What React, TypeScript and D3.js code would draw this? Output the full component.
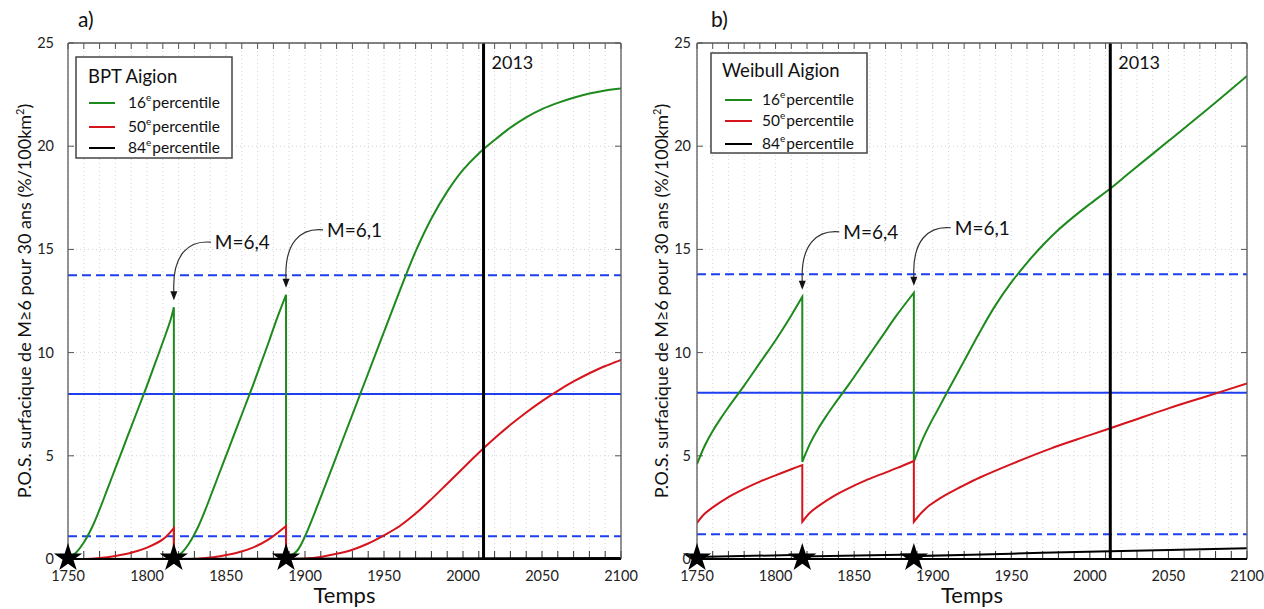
import React from 'react';
import * as d3 from 'd3';

// ---------- data ----------
const eventYears = [1817, 1888];
const eventLabels = ['M=6,4', 'M=6,1'];
const starYears = [1750, 1817, 1888];
const xTickYears = [1750, 1800, 1850, 1900, 1950, 2000, 2050, 2100];
const yTickValues = [0, 5, 10, 15, 20, 25];
const refYear = 2013;

// Panel a: BPT
const bptGreenYears1 = [1750, 1755, 1760, 1765, 1770, 1775, 1780, 1785, 1790, 1795, 1800, 1805, 1810, 1815, 1817];
const bptGreenVals1 = [0, 0.3, 0.8, 1.5, 2.4, 3.4, 4.4, 5.4, 6.4, 7.4, 8.4, 9.45, 10.5, 11.6, 12.2];
const bptGreenYears2 = [1817, 1822, 1827, 1832, 1837, 1842, 1847, 1852, 1857, 1862, 1867, 1872, 1877, 1882, 1888];
const bptGreenVals2 = [0, 0.3, 0.8, 1.5, 2.4, 3.4, 4.4, 5.4, 6.4, 7.4, 8.4, 9.45, 10.5, 11.6, 12.8];
const bptGreenYears3 = [1888, 1895, 1900, 1910, 1920, 1930, 1940, 1950, 1960, 1970, 1980, 1990, 2000, 2010, 2020, 2030, 2040, 2050, 2060, 2070, 2080, 2090, 2100];
const bptGreenVals3 = [0, 0.4, 1.1, 3.0, 5.0, 7.0, 9.0, 11.0, 13.0, 14.9, 16.5, 17.8, 18.85, 19.65, 20.3, 20.9, 21.4, 21.8, 22.1, 22.35, 22.55, 22.7, 22.8];

const bptRedYears1 = [1750, 1760, 1770, 1780, 1790, 1800, 1810, 1817];
const bptRedVals1 = [0, 0, 0.05, 0.15, 0.3, 0.55, 0.95, 1.5];
const bptRedYears2 = [1817, 1827, 1837, 1847, 1857, 1867, 1877, 1888];
const bptRedVals2 = [0, 0, 0.05, 0.15, 0.3, 0.55, 0.95, 1.6];
const bptRedYears3 = [1888, 1900, 1910, 1920, 1930, 1940, 1950, 1960, 1970, 1980, 1990, 2000, 2010, 2020, 2030, 2040, 2050, 2060, 2070, 2080, 2090, 2100];
const bptRedVals3 = [0, 0.02, 0.1, 0.25, 0.45, 0.75, 1.15, 1.6, 2.2, 2.9, 3.65, 4.4, 5.15, 5.85, 6.5, 7.1, 7.65, 8.15, 8.6, 9.0, 9.35, 9.65];

const bptBlackYears = [1750, 2100];
const bptBlackVals = [0, 0.05];

// Panel b: Weibull
const wblGreenYears1 = [1750, 1755, 1760, 1765, 1770, 1780, 1790, 1800, 1810, 1817];
const wblGreenVals1 = [4.6, 5.5, 6.2, 6.8, 7.35, 8.4, 9.5, 10.6, 11.8, 12.7];
const wblGreenYears2 = [1817, 1822, 1827, 1832, 1837, 1847, 1857, 1867, 1877, 1888];
const wblGreenVals2 = [4.7, 5.6, 6.3, 6.9, 7.45, 8.5, 9.6, 10.7, 11.8, 12.9];
const wblGreenYears3 = [1888, 1893, 1898, 1903, 1910, 1920, 1930, 1940, 1950, 1960, 1970, 1980, 1990, 2000, 2013, 2025, 2050, 2075, 2100];
const wblGreenVals3 = [4.7, 5.7, 6.5, 7.2, 8.2, 9.6, 11.0, 12.3, 13.4, 14.35, 15.2, 15.95, 16.6, 17.2, 17.95, 18.7, 20.25, 21.8, 23.4];

const wblRedYears1 = [1750, 1755, 1760, 1770, 1780, 1790, 1800, 1810, 1817];
const wblRedVals1 = [1.75, 2.2, 2.5, 3.0, 3.4, 3.75, 4.05, 4.35, 4.55];
const wblRedYears2 = [1817, 1822, 1827, 1837, 1847, 1857, 1867, 1877, 1888];
const wblRedVals2 = [1.8, 2.25, 2.55, 3.05, 3.45, 3.8, 4.1, 4.4, 4.75];
const wblRedYears3 = [1888, 1893, 1898, 1908, 1918, 1930, 1950, 1975, 2000, 2025, 2050, 2075, 2100];
const wblRedVals3 = [1.8, 2.25, 2.6, 3.1, 3.5, 3.95, 4.6, 5.35, 6.0, 6.65, 7.3, 7.9, 8.5];

const wblBlackYears1 = [1750, 1817];
const wblBlackVals1 = [0.1, 0.2];
const wblBlackYears2 = [1817, 1888];
const wblBlackVals2 = [0.12, 0.22];
const wblBlackYears3 = [1888, 1950, 2013, 2100];
const wblBlackVals3 = [0.14, 0.26, 0.38, 0.52];

const bptBlue = { solid: 8.0, dashHi: 13.75, dashLo: 1.1 };
const wblBlue = { solid: 8.05, dashHi: 13.8, dashLo: 1.2 };

const percentileNames = ['16', '50', '84'];

// ---------- styling ----------
const FONT = "Lato, 'Open Sans', sans-serif";
const GREEN = '#1e8a1e';
const RED = '#d5141c';
const BLUE = '#1d3ff0';
const seriesColors = [GREEN, RED, '#000'];

type Seg = { years: number[]; vals: number[] };

const seg = (years: number[], vals: number[]): Seg => ({ years, vals });

const panels = [
  {
    id: 'a',
    label: 'a)',
    title: 'BPT Aigion',
    x0: 68, x1: 621, yb: 559, yt: 43,
    labelX: 78, labelY: 27,
    ylabX: 31,
    tickLabelRight: 54,
    legend: { x: 76, y: 57, w: 156, h: 101, titleX: 88, titleY: 83, lineX0: 89, lineX1: 115, rows: [103, 127, 148], textX: 128 },
    blue: bptBlue,
    series: [
      [seg(bptGreenYears1, bptGreenVals1), seg(bptGreenYears2, bptGreenVals2), seg(bptGreenYears3, bptGreenVals3)],
      [seg(bptRedYears1, bptRedVals1), seg(bptRedYears2, bptRedVals2), seg(bptRedYears3, bptRedVals3)],
      [seg(bptBlackYears, bptBlackVals)],
    ],
  },
  {
    id: 'b',
    label: 'b)',
    title: 'Weibull Aigion',
    x0: 697, x1: 1247, yb: 559, yt: 43,
    labelX: 711, labelY: 27,
    ylabX: 668,
    tickLabelRight: 691,
    legend: { x: 711, y: 53, w: 156, h: 100, titleX: 722, titleY: 77, lineX0: 725, lineX1: 752, rows: [100, 121, 144], textX: 762 },
    blue: wblBlue,
    series: [
      [seg(wblGreenYears1, wblGreenVals1), seg(wblGreenYears2, wblGreenVals2), seg(wblGreenYears3, wblGreenVals3)],
      [seg(wblRedYears1, wblRedVals1), seg(wblRedYears2, wblRedVals2), seg(wblRedYears3, wblRedVals3)],
      [seg(wblBlackYears1, wblBlackVals1), seg(wblBlackYears2, wblBlackVals2), seg(wblBlackYears3, wblBlackVals3)],
    ],
  },
];

function Panel({ p }: { p: (typeof panels)[number] }) {
  const x = d3.scaleLinear().domain([1750, 2100]).range([p.x0, p.x1]);
  const y = d3.scaleLinear().domain([0, 25]).range([p.yb, p.yt]);
  const line = d3
    .line<[number, number]>()
    .x((d) => x(d[0]))
    .y((d) => y(d[1]))
    .curve(d3.curveCatmullRom.alpha(0.5));

  const pathOf = (segs: Seg[]) =>
    segs
      .map((s, i) => {
        const d = line(s.years.map((yr, j) => [yr, s.vals[j]] as [number, number])) as string;
        return i === 0 ? d : 'L' + d.slice(1);
      })
      .join('');

  const minorYears = d3.range(1750, 2101, 10);
  const star = d3.symbol().type(d3.symbolStar).size(250)() as string;
  const clipId = `clip-${p.id}`;
  const greenSegs = p.series[0];
  const peaks = eventYears.map((ev) => {
    const s = greenSegs.find((g) => g.years[g.years.length - 1] === ev)!;
    return s.vals[s.vals.length - 1];
  });
  const ymid = (p.yb + p.yt) / 2;

  return (
    <g>
      <defs>
        <clipPath id={clipId}>
          <rect x={p.x0} y={p.yt} width={p.x1 - p.x0} height={p.yb - p.yt} />
        </clipPath>
      </defs>
      <rect x={p.x0} y={p.yt} width={p.x1 - p.x0} height={p.yb - p.yt} fill="#fff" />
      {/* grid */}
      {minorYears.map((yr) => (
        <line key={'gx' + yr} x1={x(yr)} x2={x(yr)} y1={p.yt} y2={p.yb} stroke="#c8c8c8" strokeWidth={0.8} strokeDasharray="1,3" />
      ))}
      {yTickValues.map((v) => (
        <line key={'gy' + v} x1={p.x0} x2={p.x1} y1={y(v)} y2={y(v)} stroke="#c8c8c8" strokeWidth={0.8} strokeDasharray="1,3" />
      ))}
      {/* ticks */}
      {minorYears.map((yr) => (
        <g key={'t' + yr}>
          <line x1={x(yr)} x2={x(yr)} y1={p.yt} y2={p.yt + 6} stroke="#555" strokeWidth={1} />
          <line x1={x(yr)} x2={x(yr)} y1={p.yb} y2={p.yb - 8} stroke="#333" strokeWidth={1} />
        </g>
      ))}
      {yTickValues.map((v) => (
        <g key={'ty' + v}>
          <line x1={p.x0} x2={p.x0 + 6} y1={y(v)} y2={y(v)} stroke="#555" strokeWidth={1} />
          <line x1={p.x1} x2={p.x1 - 6} y1={y(v)} y2={y(v)} stroke="#555" strokeWidth={1} />
        </g>
      ))}
      {/* blue reference lines and curves */}
      <g clipPath={`url(#${clipId})`}>
        <line x1={p.x0} x2={p.x1} y1={y(p.blue.solid)} y2={y(p.blue.solid)} stroke={BLUE} strokeWidth={2} />
        <line x1={p.x0} x2={p.x1} y1={y(p.blue.dashHi)} y2={y(p.blue.dashHi)} stroke={BLUE} strokeWidth={2} strokeDasharray="9,5" />
        <line x1={p.x0} x2={p.x1} y1={y(p.blue.dashLo)} y2={y(p.blue.dashLo)} stroke={BLUE} strokeWidth={2} strokeDasharray="9,5" />
        {p.series.map((segs, i) => (
          <path key={'s' + i} d={pathOf(segs)} fill="none" stroke={seriesColors[i]} strokeWidth={2} />
        ))}
      </g>
      {/* 2013 line */}
      <line x1={x(refYear)} x2={x(refYear)} y1={p.yt} y2={p.yb} stroke="#000" strokeWidth={3} />
      <text x={x(refYear) + 8} y={p.yt + 26} fontFamily={FONT} fontSize={18} fill="#111">
        {refYear}
      </text>
      {/* frame */}
      <rect x={p.x0} y={p.yt} width={p.x1 - p.x0} height={p.yb - p.yt} fill="none" stroke="#5a5a5a" strokeWidth={1.3} rx={2} />
      <line x1={p.x0} x2={p.x1} y1={p.yb} y2={p.yb} stroke="#000" strokeWidth={2} />
      {/* stars */}
      {starYears.map((yr) => (
        <path key={'st' + yr} d={star} transform={`translate(${x(yr)},${y(0) - 1})`} fill="#000" />
      ))}
      {/* annotations */}
      {eventYears.map((ev, i) => {
        const tx = x(ev);
        const ty = y(peaks[i]) - 7;
        const sx = tx + 37;
        const sy = ty - 58;
        return (
          <g key={'an' + ev}>
            <path d={`M${sx},${sy} C${sx - 22},${sy - 2} ${tx - 2},${sy + 12} ${tx},${ty - 8}`} fill="none" stroke="#333" strokeWidth={1.2} />
            <path d={`M${tx - 3.5},${ty - 9} L${tx + 3.5},${ty - 9} L${tx},${ty} Z`} fill="#111" />
            <text x={sx + 4} y={sy + 7} fontFamily={FONT} fontSize={19} fill="#111">
              {eventLabels[i]}
            </text>
          </g>
        );
      })}
      {/* tick labels */}
      {xTickYears.map((yr) => (
        <text key={'xl' + yr} x={x(yr)} y={p.yb + 22} textAnchor="middle" fontFamily={FONT} fontSize={14.5} fill="#222">
          {yr}
        </text>
      ))}
      {yTickValues.map((v) => (
        <text key={'yl' + v} x={p.tickLabelRight} y={y(v) + 5} textAnchor="end" fontFamily={FONT} fontSize={14.5} fill="#222">
          {v}
        </text>
      ))}
      {/* axis titles */}
      <text x={(p.x0 + p.x1) / 2} y={p.yb + 44} textAnchor="middle" fontFamily={FONT} fontSize={22} fill="#111">
        Temps
      </text>
      <text transform={`translate(${p.ylabX},${ymid}) rotate(-90)`} textAnchor="middle" fontFamily={FONT} fontSize={18} fill="#111">
        P.O.S. surfacique de M≥6 pour 30 ans (%/100km
        <tspan dy={-7} fontSize={11}>2</tspan>
        <tspan dy={7}>)</tspan>
      </text>
      <text x={p.labelX} y={p.labelY} fontFamily={FONT} fontSize={21} fill="#111">
        {p.label}
      </text>
      {/* legend */}
      <rect x={p.legend.x} y={p.legend.y} width={p.legend.w} height={p.legend.h} fill="#fff" stroke="#444" strokeWidth={1.5} />
      <text x={p.legend.titleX} y={p.legend.titleY} fontFamily={FONT} fontSize={18.5} fill="#111">
        {p.title}
      </text>
      {percentileNames.map((n, i) => (
        <g key={'lg' + n}>
          <line x1={p.legend.lineX0} x2={p.legend.lineX1} y1={p.legend.rows[i]} y2={p.legend.rows[i]} stroke={seriesColors[i]} strokeWidth={2} />
          <text x={p.legend.textX} y={p.legend.rows[i] + 5} fontFamily={FONT} fontSize={15.5} fill="#111">
            {n}
            <tspan dy={-7} fontSize={10}>e</tspan>
            <tspan dy={7} dx={1}>percentile</tspan>
          </text>
        </g>
      ))}
    </g>
  );
}

export default function App() {
  return (
    <svg
      width={1264}
      height={609}
      viewBox="0 0 1264 609"
      style={{ position: 'absolute', left: 0, top: 0, background: '#fff' }}
    >
      <rect width={1264} height={609} fill="#fff" />
      {panels.map((p) => (
        <Panel key={p.id} p={p} />
      ))}
    </svg>
  );
}
